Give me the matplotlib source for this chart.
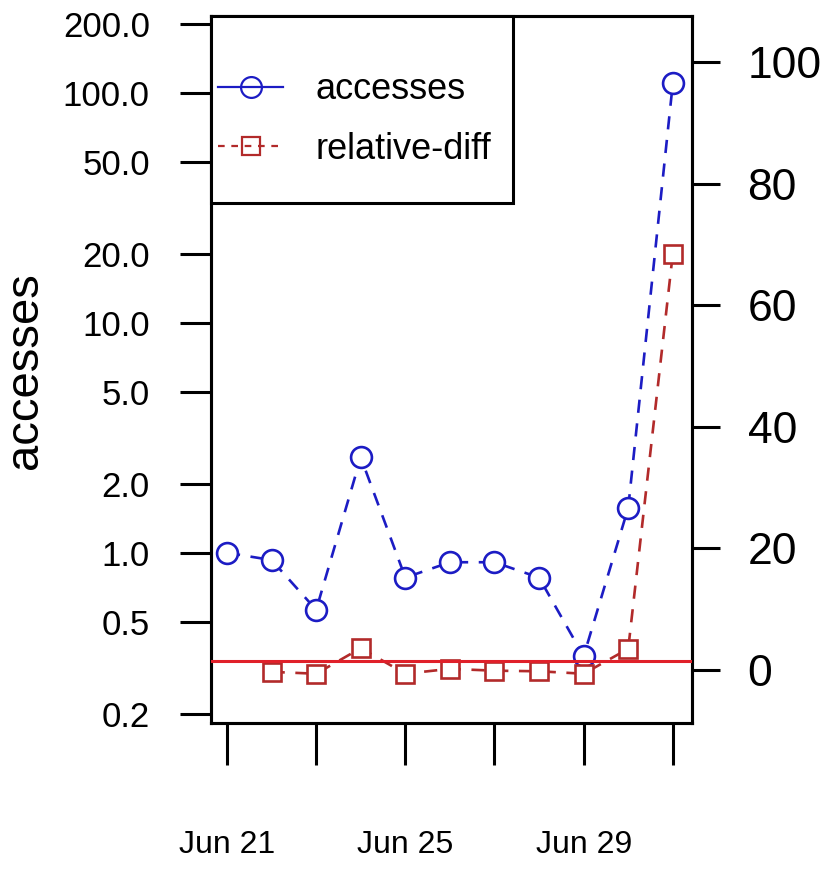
import datetime
import matplotlib
matplotlib.use('Agg')
import matplotlib.pyplot as plt
import matplotlib.dates as mdates
from matplotlib.lines import Line2D
from matplotlib.patches import Rectangle
from matplotlib.ticker import FixedLocator, FixedFormatter

plt.rcParams['font.family'] = ['Liberation Sans', 'DejaVu Sans']

# data
days = [datetime.datetime(2015, 6, 21) + datetime.timedelta(days=i) for i in range(11)]
accesses = [1.0, 0.93, 0.565, 2.6, 0.78, 0.91, 0.91, 0.78, 0.355, 1.57, 110.0]
rel_diff = [-0.3, -0.6, 3.6, -0.6, 0.2, -0.1, -0.2, -0.6, 3.5, 68.5]   # from Jun 22
hline_val = 1.5

xtick_days = days[::2]
xtick_labels = ['Jun 21', '', 'Jun 25', '', 'Jun 29', '']
left_ticks = [0.2, 0.5, 1.0, 2.0, 5.0, 10.0, 20.0, 50.0, 100.0, 200.0]
left_labels = ['0.2', '0.5', '1.0', '2.0', '5.0', '10.0', '20.0', '50.0', '100.0', '200.0']
right_ticks = [0, 20, 40, 60, 80, 100]

blue = '#1c1cc4'
red = '#b22a2a'
lw = 1.9

fig = plt.figure(figsize=(8.29, 8.81), dpi=100)
ax = fig.add_axes([0.2545, 0.1794, 0.5802, 0.8024])
ax2 = ax.twinx()

ax.plot(days, accesses, color=blue, lw=lw, ls=(0, (5, 4)), marker='o', ms=15,
        mfc='white', mec=blue, mew=lw, zorder=3)
ax2.plot(days[1:], rel_diff, color=red, lw=lw, ls=(0, (5, 4)), marker='s', ms=13,
         mfc='white', mec=red, mew=lw, zorder=3)
ax2.axhline(hline_val, color='#e0202a', lw=2.2, zorder=4)

ax.set_yscale('log')
ax.set_ylim(0.182, 216)
ax2.set_ylim(-8.7, 107.6)
d0 = mdates.date2num(days[0])
ax.set_xlim(d0 - 0.36, d0 + 10.43)

ax.yaxis.set_major_locator(FixedLocator(left_ticks))
ax.yaxis.set_major_formatter(FixedFormatter(left_labels))
ax.yaxis.set_minor_locator(FixedLocator([]))
ax2.set_yticks(right_ticks)
ax.xaxis.set_major_locator(FixedLocator([mdates.date2num(d) for d in xtick_days]))
ax.xaxis.set_major_formatter(FixedFormatter(xtick_labels))

ax.tick_params(axis='y', direction='out', length=22, width=2.2, pad=22, labelsize=25)
ax2.tick_params(axis='y', direction='out', length=20, width=2.2, pad=20, labelsize=32)
ax.tick_params(axis='x', direction='out', length=30, width=2.2, pad=47, labelsize=23)

for a in (ax, ax2):
    for s in a.spines.values():
        s.set_linewidth(2.2)

ax.set_ylabel('accesses', fontsize=34)
ax.yaxis.set_label_coords(-0.34, 0.498)

# legend box like R's, drawn separately so the padding can be uneven
box = Rectangle((0, 0.7355), 0.628, 0.2645, transform=ax2.transAxes, facecolor='white',
                edgecolor='black', lw=2.2, zorder=9, clip_on=False)
ax2.add_patch(box)

handles = [
    Line2D([], [], color=blue, lw=1.6, marker='o', ms=15, mfc='none', mew=1.6),
    Line2D([], [], color=red, lw=1.6, ls=(0, (3, 3)), marker='s', ms=13, mfc='none', mew=1.6),
]
leg = ax2.legend(handles, ['accesses', 'relative-diff'], loc='center left',
                 bbox_to_anchor=(0.0146, 0.8536), borderaxespad=0, borderpad=0,
                 fontsize=26, handlelength=1.8, handletextpad=0.9, labelspacing=0.67,
                 frameon=False)
leg.set_zorder(10)

fig.savefig('out.png', dpi=100)
